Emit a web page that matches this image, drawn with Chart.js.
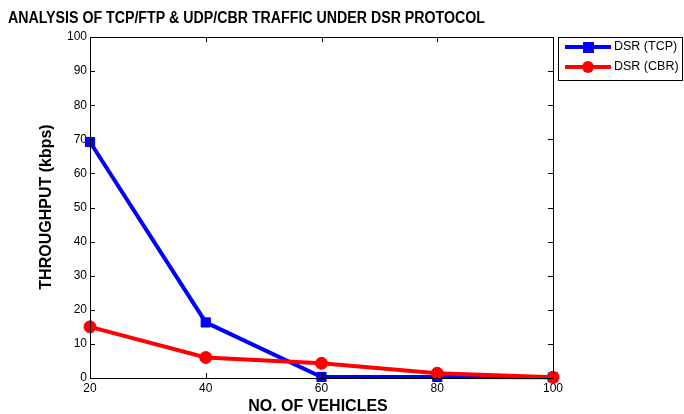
<!DOCTYPE html>
<html><head><meta charset="utf-8">
<script src="https://cdn.jsdelivr.net/npm/chart.js@4"></script>
<style>html,body{margin:0;padding:0;background:#fff}#wrap{width:684px;height:414px}</style>
</head><body><div id="wrap"><canvas id="c" width="684" height="414"></canvas></div>
<script>
const vehicles = [20, 40, 60, 80, 100];
const tcpThroughput = [69.2, 16.3, 0.3, 0.3, 0.2];
const cbrThroughput = [15.0, 6.0, 4.3, 1.4, 0.2];
const yTicks = [0,10,20,30,40,50,60,70,80,90,100];
const titleText = 'ANALYSIS OF TCP/FTP & UDP/CBR TRAFFIC UNDER DSR PROTOCOL';
const xTitle = 'NO. OF VEHICLES';
const yTitle = 'THROUGHPUT (kbps)';
const seriesNames = ['DSR (TCP)', 'DSR (CBR)'];

const FONT = '"Liberation Sans", Arial, sans-serif';

const framePlugin = {
  id: 'frame',
  afterDraw(chart) {
    const ctx = chart.ctx, a = chart.chartArea;
    const xs = chart.scales.x, ys = chart.scales.y;
    ctx.save();
    ctx.strokeStyle = '#000'; ctx.lineWidth = 1;
    ctx.strokeRect(Math.round(a.left)+0.5, Math.round(a.top)+0.5, Math.round(a.right-a.left), Math.round(a.bottom-a.top));
    ctx.beginPath();
    vehicles.forEach(v => {
      const px = Math.round(xs.getPixelForValue(v)) + 0.5;
      ctx.moveTo(px, a.bottom); ctx.lineTo(px, a.bottom - 5);
      ctx.moveTo(px, a.top); ctx.lineTo(px, a.top + 5);
    });
    yTicks.forEach(v => {
      const py = Math.round(ys.getPixelForValue(v)) + 0.5;
      ctx.moveTo(a.left, py); ctx.lineTo(a.left + 5, py);
      ctx.moveTo(a.right, py); ctx.lineTo(a.right - 5, py);
    });
    ctx.stroke();
    ctx.fillStyle = '#000';
    ctx.textBaseline = 'middle'; ctx.textAlign = 'left';
    // title
    ctx.font = 'bold 16px ' + FONT;
    const tw = ctx.measureText(titleText).width;
    ctx.save();
    ctx.translate(8, 19);
    ctx.scale(477 / tw, 1);
    ctx.fillText(titleText, 0, 0);
    ctx.restore();
    // axis titles
    ctx.font = 'bold 16px ' + FONT;
    ctx.textAlign = 'center';
    ctx.fillText(xTitle, 318, 407);
    ctx.save();
    ctx.translate(47, 207);
    ctx.rotate(-Math.PI / 2);
    ctx.fillText(yTitle, 0, 0);
    ctx.restore();
    // legend
    ctx.textAlign = 'left';
    const lx = 558, ly = 37, lw = 124, lh = 43;
    ctx.strokeStyle = '#000'; ctx.lineWidth = 1;
    ctx.strokeRect(lx + 0.5, ly + 0.5, lw, lh);
    const rows = [
      {name: seriesNames[0], color: '#0000ff', style: 'rect', y: 47},
      {name: seriesNames[1], color: '#ff0000', style: 'circle', y: 67}
    ];
    rows.forEach(r => {
      ctx.strokeStyle = r.color; ctx.lineWidth = 4;
      ctx.beginPath(); ctx.moveTo(565, r.y); ctx.lineTo(611, r.y); ctx.stroke();
      ctx.fillStyle = r.color;
      if (r.style === 'rect') { ctx.fillRect(583, r.y - 5, 11, 11); }
      else { ctx.beginPath(); ctx.arc(588, r.y, 6, 0, Math.PI*2); ctx.fill(); }
      ctx.fillStyle = '#000'; ctx.font = '12.5px ' + FONT;
      ctx.fillText(r.name, 614, r.y);
    });
    ctx.restore();
  }
};

new Chart(document.getElementById('c'), {
  type: 'line',
  data: {
    datasets: [
      { label: seriesNames[0], data: vehicles.map((v,i)=>({x:v,y:tcpThroughput[i]})),
        borderColor: '#0000ff', backgroundColor: '#0000ff', borderWidth: 4,
        pointStyle: 'rect', pointRadius: 6.5, pointBorderWidth: 1, pointBorderColor: '#0000cc',
        order: 1, tension: 0, clip: false },
      { label: seriesNames[1], data: vehicles.map((v,i)=>({x:v,y:cbrThroughput[i]})),
        borderColor: '#ff0000', backgroundColor: '#ff0000', borderWidth: 4,
        pointStyle: 'circle', pointRadius: 6, pointBorderWidth: 1, pointBorderColor: '#ff0000',
        order: 0, tension: 0, clip: false }
    ]
  },
  options: {
    responsive: false, animation: false,
    layout: { padding: { top: 37, right: 131, left: 0, bottom: 0 } },
    plugins: { legend: { display: false }, tooltip: { enabled: false }, title: { display: false } },
    scales: {
      x: {
        type: 'linear', min: 20, max: 100,
        afterBuildTicks: s => { s.ticks = vehicles.map(v => ({value: v})); },
        afterFit: s => { s.height = 36; },
        grid: { display: false, drawTicks: false },
        border: { display: false },
        ticks: { color: '#000', font: { family: FONT, size: 12 }, padding: 3, maxRotation: 0 },
        title: { display: false }
      },
      y: {
        min: 0, max: 100,
        afterBuildTicks: s => { s.ticks = yTicks.map(v => ({value: v})); },
        afterFit: s => { s.width = 90; },
        grid: { display: false, drawTicks: false },
        border: { display: false },
        ticks: { color: '#000', font: { family: FONT, size: 12 }, padding: 3 },
        title: { display: false }
      }
    }
  },
  plugins: [framePlugin]
});
</script></body></html>
